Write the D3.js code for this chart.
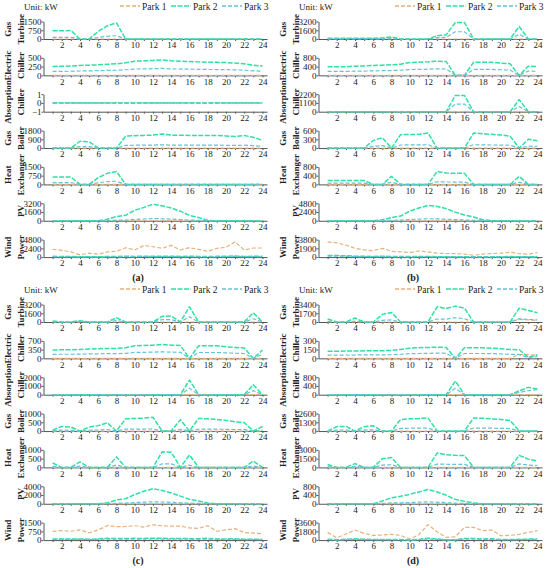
<!DOCTYPE html>
<html>
<head>
<meta charset="utf-8">
<script src="https://cdn.jsdelivr.net/npm/d3@7.9.0/dist/d3.min.js"></script>
<style>
  body { margin: 0; background: #fff; }
  svg { display: block; }
  text { font-family: "Liberation Serif", "Times New Roman", serif; fill: #222; }
</style>
</head>
<body>
<svg id="chart" width="550" height="568"></svg>
<script>
const hours = [1,2,3,4,5,6,7,8,9,10,11,12,13,14,15,16,17,18,19,20,21,22,23,24];
const parks = ['Park 1', 'Park 2', 'Park 3'];
const parkColors = ['#e8b07c', '#2fe0a2', '#62c4d6'];
const rowNames = [['Gas','Turbine'], ['Electric','Chiller'], ['Absorption','Chiller'], ['Gas','Boiler'], ['Heat','Exchanger'], ['','PV'], ['Wind','Power']];
const panelLabels = ['(a)', '(b)', '(c)', '(d)'];

// y tick values, one list per row
const ticksA = [[0,750,1500],[0,250,500],[-1,0,1],[0,900,1800],[0,750,1500],[0,1600,3200],[0,2400,4800]];
const ticksB = [[0,1600,3200],[0,400,800],[0,1100,2200],[0,300,600],[0,400,800],[0,2400,4800],[0,1900,3800]];
const ticksC = [[0,1600,3200],[0,350,700],[0,1000,2000],[0,500,1000],[0,500,1000],[0,2000,4000],[0,750,1500]];
const ticksD = [[0,1700,3400],[0,150,300],[0,400,800],[0,1300,2600],[0,1500,3000],[0,400,800],[0,1800,3600]];

const none = [0,0,0,0,0,0,0,0,0,0,0,0,0,0,0,0,0,0,0,0,0,0,0,0];

// ---- panel (a): [park 1, park 2, park 3]
const aGasTurbine = [none,
  [700,700,740,0,0,650,1130,1380,0,0,0,0,0,0,0,0,0,0,0,0,0,0,0,0],
  [140,140,150,0,0,130,230,280,0,0,0,0,0,0,0,0,0,0,0,0,0,0,0,0]];
const aElecChiller = [none,
  [255,258,265,283,290,300,315,330,358,405,415,425,443,415,405,395,385,377,372,365,350,330,292,264],
  [113,115,118,125,128,133,140,147,160,180,185,190,198,185,180,176,172,168,166,163,156,147,130,118]];
const aAbsChiller = [none, none, none];
const aGasBoiler = [none,
  [0,0,0,700,650,0,0,0,1220,1270,1300,1330,1450,1330,1310,1300,1300,1300,1300,1250,1180,1300,1100,800],
  [0,0,0,150,140,0,0,0,280,290,295,300,330,300,300,295,295,295,295,285,270,295,250,180]];
const aHeatExch = [none,
  [630,630,630,0,0,580,950,1100,0,0,0,0,0,0,0,0,0,0,0,0,0,0,0,0],
  [160,160,160,0,0,140,240,270,0,0,0,0,0,0,0,0,0,0,0,0,0,0,0,0]];
const aPV = [none,
  [0,0,0,0,0,0,290,760,990,1920,2440,3020,2730,2330,1750,990,580,60,0,0,0,0,0,0],
  [0,0,0,0,0,0,40,100,130,250,320,400,360,310,230,130,75,10,0,0,0,0,0,0]];
const aWind = [
  [2130,1870,1420,620,1070,800,1420,1600,2580,1960,3200,2840,2400,3200,1960,2580,2130,1600,2400,2670,4180,1960,2490,2490],
  [200,180,150,120,130,110,140,160,220,190,260,240,210,260,180,220,190,160,200,230,320,180,210,200],
  [120,110,90,70,80,70,90,100,140,120,160,150,130,160,110,140,120,100,130,140,200,110,130,130]];

// ---- panel (b)
const bGasTurbine = [none,
  [150,150,150,150,150,150,180,360,0,0,0,0,600,750,3020,3020,0,0,0,0,0,2290,0,0],
  [60,60,60,60,60,60,70,150,0,0,0,0,250,300,1330,1330,0,0,0,0,0,850,0,0]];
const bElecChiller = [none,
  [390,390,395,420,430,450,465,480,510,590,600,620,650,630,0,0,600,600,600,560,530,0,420,400],
  [180,180,182,190,195,205,212,220,235,265,272,282,300,290,0,0,270,270,270,255,240,0,195,185]];
const bAbsChiller = [none,
  [0,0,0,0,0,0,0,0,0,0,0,0,0,0,2040,2040,0,0,0,0,0,1520,0,0],
  [0,0,0,0,0,0,0,0,0,0,0,0,0,0,960,960,0,0,0,0,0,640,0,0]];
const bGasBoiler = [none,
  [0,0,0,0,0,260,355,0,460,465,470,515,0,0,0,0,515,490,470,445,410,0,300,250],
  [0,0,0,0,0,60,85,0,105,107,108,115,0,0,0,0,115,110,105,100,95,0,65,55]];
const bHeatExch = [none,
  [180,180,180,180,180,0,0,365,0,0,0,0,590,520,505,505,0,0,0,0,0,365,0,0],
  [55,55,55,55,55,0,0,100,0,0,0,0,120,110,108,108,0,0,0,0,0,100,0,0]];
const bPV = [none,
  [0,0,0,0,0,0,260,870,1310,2620,3490,4190,3930,3320,2360,1570,1050,260,0,0,0,0,0,0],
  [0,0,0,0,0,0,35,115,170,340,450,550,510,430,310,205,135,35,0,0,0,0,0,0]];
const bWind = [
  [3310,3100,2600,1900,1550,1410,1900,1270,1130,985,1340,1130,845,775,775,630,420,630,775,845,1060,775,630,985],
  [350,340,280,200,170,150,200,140,120,110,140,120,90,80,80,70,50,70,80,90,110,80,70,110],
  [220,210,170,120,100,90,120,85,75,65,85,75,55,50,50,45,30,45,50,55,70,50,45,65]];

// ---- panel (c)
const cGasTurbine = [none,
  [180,0,0,240,0,0,0,785,0,0,0,0,1030,1090,0,2780,0,0,0,0,0,0,1690,0],
  [60,0,0,80,0,0,0,260,0,0,0,0,420,440,0,970,0,0,0,0,0,0,600,0]];
const cElecChiller = [none,
  [330,345,345,356,370,383,396,396,422,500,515,528,555,528,515,0,500,500,500,462,435,410,0,330],
  [160,165,165,170,176,182,188,188,200,235,242,248,260,248,242,0,235,235,235,218,205,193,0,160]];
const cAbsChiller = [none,
  [0,0,0,0,0,0,0,0,0,0,0,0,0,0,0,1670,0,0,0,0,0,0,1130,0],
  [0,0,0,0,0,0,0,0,0,0,0,0,0,0,0,730,0,0,0,0,0,0,470,0]];
const cGasBoiler = [none,
  [50,260,230,0,230,310,470,0,700,720,740,790,0,0,650,0,720,700,665,610,525,490,0,260],
  [10,50,45,0,45,60,90,0,110,112,115,120,0,0,100,0,110,108,105,100,90,85,0,50]];
const cHeatExch = [none,
  [250,0,0,310,0,0,0,600,0,0,0,0,890,870,0,710,0,0,0,0,0,0,360,0],
  [60,0,0,70,0,0,0,140,0,0,0,0,200,200,0,130,0,0,0,0,0,0,80,0]];
const cPV = [none,
  [0,0,0,0,0,0,220,870,1160,2110,2840,3420,3050,2470,1750,1020,650,150,0,0,0,0,0,0],
  [0,0,0,0,0,0,30,115,150,275,370,445,400,320,230,135,85,20,0,0,0,0,0,0]];
const cWind = [
  [740,820,760,870,630,870,1250,1150,1170,1230,1120,1310,1230,1200,1200,1040,1010,1230,760,870,980,650,600,550],
  [90,100,90,105,75,105,150,140,140,150,135,160,150,145,145,125,120,150,90,105,120,80,70,65],
  [55,60,55,65,45,65,90,85,85,90,80,95,90,85,85,75,72,90,55,65,72,48,42,40]];

// ---- panel (d)
const dGasTurbine = [
  [0,0,0,0,0,0,0,0,0,0,0,0,0,0,0,0,0,0,0,0,0,500,400,300],
  [580,0,0,770,0,0,1480,1860,0,0,0,0,2950,2630,3080,2690,0,0,0,0,0,2690,2250,1800],
  [120,0,0,160,0,0,320,400,0,0,0,0,580,560,830,640,0,0,0,0,0,640,500,400]];
const dElecChiller = [
  [0,0,0,0,0,0,0,0,0,0,0,0,0,0,0,0,0,0,0,0,0,65,65,50],
  [120,120,125,125,130,130,130,136,153,175,181,187,192,187,0,181,181,181,175,164,153,147,20,60],
  [55,55,57,57,60,60,60,62,70,80,83,86,90,86,0,83,83,83,80,75,70,67,10,30]];
const dAbsChiller = [none,
  [0,0,0,0,0,0,0,0,0,0,0,0,0,0,625,0,0,0,0,0,0,175,335,260],
  [0,0,0,0,0,0,0,0,0,0,0,0,0,0,290,0,0,0,0,0,0,100,190,230]];
const dGasBoiler = [none,
  [0,650,700,0,650,790,0,0,1720,1810,1860,1950,0,0,0,0,1950,1900,1810,1720,1580,0,0,0],
  [0,150,160,0,150,180,0,0,400,420,430,450,0,0,0,0,450,440,420,400,370,0,0,0]];
const dHeatExch = [none,
  [490,0,0,650,0,0,1470,1690,0,0,0,0,2450,2180,2070,2020,0,0,0,0,0,2070,1420,1090],
  [130,0,0,170,0,0,400,460,0,0,0,0,560,540,530,520,0,0,0,0,0,600,400,330]];
const dPV = [none,
  [0,0,0,0,0,0,123,277,340,430,540,650,540,385,200,108,46,0,0,0,0,0,0,0],
  [0,0,0,0,0,0,16,36,44,56,70,85,70,50,26,14,6,0,0,0,0,0,0,0]];
const dWind = [
  [1590,480,1250,2080,1380,970,1040,1180,970,210,1110,3180,1730,550,690,2630,2630,1940,2080,900,970,1180,1590,1940],
  [200,60,160,260,170,120,130,150,120,30,140,400,220,70,90,330,330,240,260,110,120,150,200,240],
  [120,40,100,160,100,75,80,90,75,20,85,240,130,45,55,200,200,145,160,70,75,90,120,145]];

const panels = [
  { ox: 0,   oy: 0,   ticks: ticksA, rows: [aGasTurbine, aElecChiller, aAbsChiller, aGasBoiler, aHeatExch, aPV, aWind] },
  { ox: 275, oy: 0,   ticks: ticksB, rows: [bGasTurbine, bElecChiller, bAbsChiller, bGasBoiler, bHeatExch, bPV, bWind] },
  { ox: 0,   oy: 283, ticks: ticksC, rows: [cGasTurbine, cElecChiller, cAbsChiller, cGasBoiler, cHeatExch, cPV, cWind] },
  { ox: 275, oy: 283, ticks: ticksD, rows: [dGasTurbine, dElecChiller, dAbsChiller, dGasBoiler, dHeatExch, dPV, dWind] }
];

const dashes = ['4,2', '5,1.5', '4,2'];
const widths = [1.2, 1.5, 1.2];

const svg = d3.select('#chart');
const x = d3.scaleLinear().domain([0, 24.5]).range([43.5, 267]);
const rowStep = 36.35, rowTop = 21.5, plotH = 17.5;

panels.forEach((p, pi) => {
  const g = svg.append('g').attr('transform', `translate(${p.ox},${p.oy})`);

  // header: unit + legend
  g.append('text').attr('x', 24).attr('y', 9.5).attr('font-size', 9).text('Unit: kW');
  const legX = [120, 171, 222];
  parks.forEach((name, i) => {
    g.append('line').attr('x1', legX[i]).attr('x2', legX[i] + 20).attr('y1', 6).attr('y2', 6)
      .attr('stroke', parkColors[i]).attr('stroke-width', widths[i] + 0.1).attr('stroke-dasharray', dashes[i]);
    g.append('text').attr('x', legX[i] + 22).attr('y', 9.5).attr('font-size', 9.5).text(name);
  });

  p.rows.forEach((series, r) => {
    const top = rowTop + r * rowStep;
    const base = top + plotH;
    const tv = p.ticks[r];
    const y = d3.scaleLinear().domain([tv[0], tv[2]]).range([base, top]);
    const row = g.append('g');

    // axes
    const xAxis = row.append('g').attr('transform', `translate(0,${base})`)
      .call(d3.axisBottom(x).tickValues(hours).tickSize(2).tickSizeOuter(0).tickPadding(1)
        .tickFormat(d => d % 2 === 0 ? d : ''));
    const yAxis = row.append('g').attr('transform', `translate(${x(0)},0)`)
      .call(d3.axisLeft(y).tickValues(tv).tickSize(2).tickSizeOuter(0).tickPadding(0)
        .tickFormat(d => d < 0 ? '\u2212' + Math.abs(d) : d));
    [xAxis, yAxis].forEach(a => {
      a.select('.domain').attr('stroke', '#555').attr('stroke-width', 1);
      a.selectAll('.tick line').attr('stroke', '#555');
      a.selectAll('.tick text').attr('font-size', 9).attr('font-family', '"Liberation Serif", serif').attr('fill', '#222');
    });

    // series
    const line = d3.line().x((d, i) => x(hours[i])).y(d => y(d));
    series.forEach((vals, i) => {
      row.append('path').datum(vals).attr('d', line)
        .attr('fill', 'none').attr('stroke', parkColors[i])
        .attr('stroke-width', widths[i]).attr('stroke-dasharray', dashes[i])
        .attr('stroke-linejoin', 'round');
    });

    // row label (rotated, two lines)
    const cy = top + plotH / 2 - 1;
    rowNames[r].forEach((t, li) => {
      if (!t) return;
      row.append('text')
        .attr('transform', `translate(${li === 0 ? 8 : 20.5},${cy}) rotate(-90)`)
        .attr('text-anchor', 'middle').attr('dominant-baseline', 'central')
        .attr('font-size', 9).attr('font-weight', 'bold').text(t);
    });
  });

  g.append('text').attr('x', 138).attr('y', 280.5).attr('text-anchor', 'middle')
    .attr('font-size', 10).attr('font-weight', 'bold').text(panelLabels[pi]);
});
</script>
</body>
</html>
